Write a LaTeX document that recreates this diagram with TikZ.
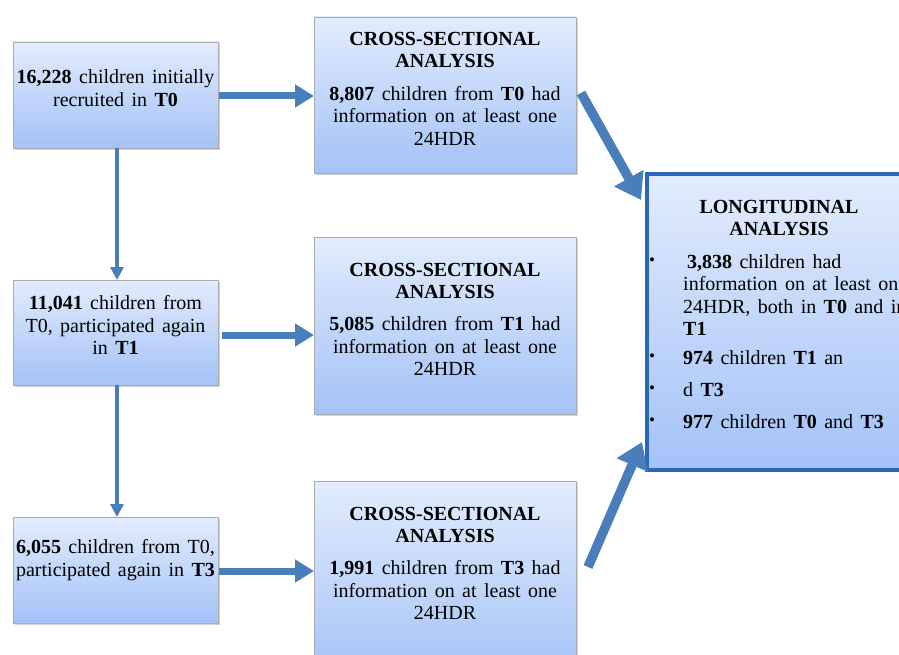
\documentclass[tikz,border=0pt]{standalone}
\usepackage{fontspec}
\setmainfont{Liberation Serif}
\usetikzlibrary{arrows.meta,shadows,calc}
\definecolor{boxtop}{HTML}{E2ECFD}
\definecolor{boxbot}{HTML}{A3C2F7}
\definecolor{arrowblue}{HTML}{4A7EBB}
\definecolor{longborder}{HTML}{2A68B6}
\newcommand{\boxfont}{\fontsize{20}{22.5}\selectfont\spaceskip=0.37em plus 0.1em minus 0.05em\relax}
\tikzset{
  flowbox/.style={rectangle, draw=gray!65, line width=0.8pt, top color=boxtop, bottom color=boxbot,
    inner sep=0pt, outer sep=0pt, anchor=north west,
    drop shadow={shadow xshift=1.8pt, shadow yshift=-1.8pt, opacity=0.35}},
  longbox/.style={rectangle, draw=longborder, line width=4.5pt, top color=boxtop, bottom color=boxbot,
    inner sep=0pt, outer sep=0pt, anchor=north west,
    drop shadow={shadow xshift=2pt, shadow yshift=-2pt, opacity=0.4}},
  txt/.style={font=\boxfont, align=center, inner sep=0pt},
  ltxt/.style={font=\boxfont, align=left, inner sep=0pt, anchor=west},
  bul/.style={font=\fontsize{17}{17}\selectfont, inner sep=0pt},
  harr/.style={draw=arrowblue, line width=7pt, -{Triangle[width=22pt,length=19pt]}},
  varr/.style={draw=arrowblue, line width=4.5pt, -{Triangle[width=13pt,length=13pt]}},
  darr/.style={draw=arrowblue, line width=9.5pt, -{Triangle[width=32pt,length=25pt]}},
}
\begin{document}
\begin{tikzpicture}[x=1pt,y=-1pt]
\useasboundingbox (0,0) rectangle (899,655);
\clip (0,0) rectangle (899,655);
% left column
\node[flowbox, minimum width=205pt, minimum height=106pt] (a) at (13,42) {};
\node[flowbox, minimum width=205pt, minimum height=105pt] (b) at (13,280) {};
\node[flowbox, minimum width=205pt, minimum height=106pt] (c) at (13,517) {};
% middle column
\node[flowbox, minimum width=262pt, minimum height=156pt] (c1) at (314,17) {};
\node[flowbox, minimum width=262pt, minimum height=177pt] (c2) at (314,237) {};
\node[flowbox, minimum width=262pt, minimum height=200pt] (c3) at (314,481) {};
% longitudinal box
\node[longbox, minimum width=300pt, minimum height=296pt] (lg) at (647,174) {};

% texts left
\node[txt] (at) at (115.5,88) {\textbf{16,228} children initially\\recruited in \textbf{T0}};
\node[txt] (bt) at (115.5,325) {\textbf{11,041} children from\\T0, participated again\\in \textbf{T1}};
\node[txt] (ct) at (115.5,560) {\textbf{6,055} children from T0,\\participated again in \textbf{T3}};
% texts middle
\node[txt] (c1h) at (445,50) {\textbf{CROSS-SECTIONAL}\\\textbf{ANALYSIS}};
\node[txt] (c1b) at (445,115.5) {\textbf{8,807} children from \textbf{T0} had\\information on at least one\\24HDR};
\node[txt] (c2h) at (445,281) {\textbf{CROSS-SECTIONAL}\\\textbf{ANALYSIS}};
\node[txt] (c2b) at (445,346) {\textbf{5,085} children from \textbf{T1} had\\information on at least one\\24HDR};
\node[txt] (c3h) at (445,525) {\textbf{CROSS-SECTIONAL}\\\textbf{ANALYSIS}};
\node[txt] (c3b) at (445,590) {\textbf{1,991} children from \textbf{T3} had\\information on at least one\\24HDR};
% longitudinal texts
\node[txt] (lgh) at (779,218) {\textbf{LONGITUDINAL}\\\textbf{ANALYSIS}};
\node[ltxt] (l1) at (683,295) {\hspace{4pt}\textbf{3,838} children had\\information on at least one\\24HDR, both in \textbf{T0} and in\\\textbf{T1}};
\node[ltxt] (l2) at (683,358) {\textbf{974} children \textbf{T1} an};
\node[ltxt] (l3) at (683,390) {d \textbf{T3}};
\node[ltxt] (l4) at (683,422) {\textbf{977} children \textbf{T0} and \textbf{T3}};
\node[bul] (b1) at (652,262) {\textbullet};
\node[bul] (b2) at (652,358) {\textbullet};
\node[bul] (b3) at (652,390) {\textbullet};
\node[bul] (b4) at (652,422) {\textbullet};

% arrows
\draw[harr, shorten <=1pt] ([yshift=-1pt]a.east) -- ([yshift=-1pt]a.east -| c1.west);
\draw[harr, shorten <=4pt] ([yshift=-2.5pt]b.east) -- ([yshift=-2.5pt]b.east -| c2.west);
\draw[harr, shorten <=1pt] ([yshift=-1pt]c.east) -- ([yshift=-1pt]c.east -| c3.west);
\draw[varr] ([xshift=1.5pt]a.south) -- ([xshift=1.5pt]b.north);
\draw[varr] ([xshift=1.5pt]b.south) -- ([xshift=1.5pt]c.north);
\draw[darr] ([xshift=5pt,yshift=2pt]c1.east) -- ([xshift=-6pt,yshift=-26pt]lg.north west);
\draw[darr] ([xshift=12pt,yshift=14pt]c3.east) -- ([xshift=-5pt,yshift=28pt]lg.south west);
\end{tikzpicture}
\end{document}
